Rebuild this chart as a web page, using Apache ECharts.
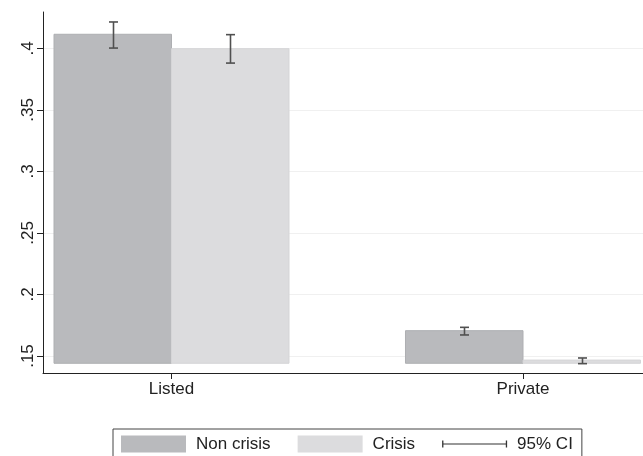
<!DOCTYPE html>
<html>
<head>
<meta charset="utf-8">
<script src="https://cdn.jsdelivr.net/npm/echarts@6/dist/echarts.min.js"></script>
<style>html,body{margin:0;padding:0;background:#fff}#c{width:643px;height:456px}</style>
</head>
<body>
<div id="c"></div>
<script>
// ---- data ----
var categories = ['Listed', 'Private'];
var nonCrisis = [0.4114, 0.1706];
var crisis = [0.3997, 0.1467];
var nonCrisisLow = [0.4002, 0.1671];
var nonCrisisHigh = [0.4214, 0.1733];
var crisisLow = [0.3880, 0.1438];
var crisisHigh = [0.4111, 0.1484];
var barBase = 0.1441;
var yTicks = [0.15, 0.2, 0.25, 0.3, 0.35, 0.4];
var yTickLabels = ['.15', '.2', '.25', '.3', '.35', '.4'];

// ---- build ----
var HALF = 0.3343; // bar width in x-axis units
var FONT = '"Liberation Sans", Arial, Helvetica, sans-serif';
var barData = [];
categories.forEach(function (c, i) {
  barData.push([i + 1, nonCrisis[i], 0]);
});
var barData2 = [];
categories.forEach(function (c, i) {
  barData2.push([i + 1, crisis[i], 1]);
});
var ciData = [];
categories.forEach(function (c, i) {
  ciData.push([i + 1, nonCrisisLow[i], nonCrisisHigh[i], 0]);
  ciData.push([i + 1, crisisLow[i], crisisHigh[i], 1]);
});

function renderBar(color, stroke) {
  return function (params, api) {
    var g = api.value(0), v = api.value(1), side = api.value(2);
    var x0 = side === 0 ? g - HALF : g;
    var x1 = side === 0 ? g : g + HALF;
    var p0 = api.coord([x0, v]);
    var p1 = api.coord([x1, barBase]);
    return {
      type: 'rect',
      shape: { x: p0[0], y: p0[1], width: p1[0] - p0[0], height: p1[1] - p0[1] },
      style: { fill: color, stroke: stroke, lineWidth: 1 }
    };
  };
}

function renderCI(params, api) {
  var g = api.value(0), lo = api.value(1), hi = api.value(2), side = api.value(3);
  var xc = side === 0 ? g - HALF / 2 : g + HALF / 2;
  var a = api.coord([xc, lo]);
  var b = api.coord([xc, hi]);
  var x = Math.round(a[0]) + 0.5;
  var cap = 4.5;
  var st = { stroke: '#505050', lineWidth: 1.6 };
  return {
    type: 'group',
    children: [
      { type: 'line', shape: { x1: x, y1: a[1], x2: x, y2: b[1] }, style: st },
      { type: 'line', shape: { x1: x - cap, y1: a[1], x2: x + cap, y2: a[1] }, style: st },
      { type: 'line', shape: { x1: x - cap, y1: b[1], x2: x + cap, y2: b[1] }, style: st }
    ]
  };
}

var chart = echarts.init(document.getElementById('c'), null, { renderer: 'canvas' });
chart.setOption({
  animation: false,
  backgroundColor: '#ffffff',
  textStyle: { fontFamily: FONT },
  grid: { left: 43, right: 0, top: 12, bottom: 83, containLabel: false },
  xAxis: {
    type: 'value',
    min: 0.6344,
    max: 2.3414,
    axisLine: { show: true, lineStyle: { color: '#222', width: 1 } },
    axisTick: { show: true, length: 6, lineStyle: { color: '#222' }, customValues: [1, 2] },
    axisLabel: {
      customValues: [1, 2],
      formatter: function (v) { return categories[Math.round(v) - 1]; },
      color: '#222', fontSize: 17, fontFamily: FONT, margin: 8
    },
    splitLine: { show: false }
  },
  yAxis: {
    type: 'value',
    min: 0.1362,
    max: 0.4295,
    axisLine: { show: true, lineStyle: { color: '#222', width: 1 } },
    axisTick: { show: true, length: 6, lineStyle: { color: '#222' }, customValues: yTicks },
    axisLabel: {
      customValues: yTicks,
      formatter: function (v) {
        for (var i = 0; i < yTicks.length; i++) if (Math.abs(v - yTicks[i]) < 1e-6) return yTickLabels[i];
        return '';
      },
      rotate: 90, color: '#222', fontSize: 17, fontFamily: FONT, margin: 6
    },
    splitLine: { show: true, lineStyle: { color: '#f0f0f0', width: 1 } }
  },
  legend: {
    left: 113, top: 429,
    orient: 'horizontal',
    padding: [6.5, 9, 8, 8],
    itemGap: 27,
    itemWidth: 65, itemHeight: 17,
    borderColor: '#444', borderWidth: 1,
    textStyle: { fontSize: 17, color: '#222', fontFamily: FONT, padding: [0, 0, 0, 5] },
    data: [
      { name: 'Non crisis', icon: 'rect', itemStyle: { color: '#b9babd' } },
      { name: 'Crisis', icon: 'rect', itemStyle: { color: '#dcdcde' } },
      { name: '95% CI', icon: 'path://M0,0h0.01v0.01h-0.01z M0,16.99h0.01v0.01h-0.01z M0,5h1.3v7h-1.3z M0,7.9h65v1.2h-65z M63.7,5h1.3v7h-1.3z', itemStyle: { color: '#333' } }
    ]
  },
  series: [
    {
      name: 'Non crisis', type: 'custom', renderItem: renderBar('#b9babd', '#aeafb2'),
      itemStyle: { color: '#b9babd' }, data: barData, encode: { x: 0, y: 1 }, z: 2
    },
    {
      name: 'Crisis', type: 'custom', renderItem: renderBar('#dcdcde', '#d5d5d7'),
      itemStyle: { color: '#dcdcde' }, data: barData2, encode: { x: 0, y: 1 }, z: 2
    },
    {
      name: '95% CI', type: 'custom', renderItem: renderCI,
      itemStyle: { color: '#333' }, data: ciData, encode: { x: 0, y: [1, 2] }, z: 3
    }
  ]
});
</script>
</body>
</html>
